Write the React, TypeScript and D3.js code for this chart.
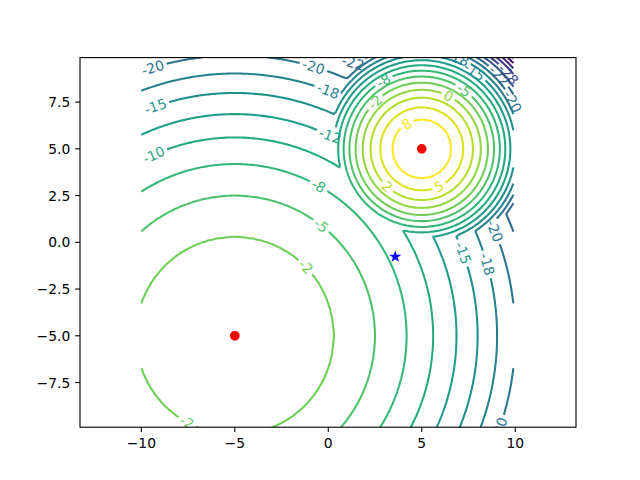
import React, { useMemo } from 'react';
import * as d3 from 'd3';

// ---------- data ----------
const peakX = [-5, 5];
const peakY = [-5, 5];
// contour rings around the lower-left peak (level -> radius)
const ringLevelsA = [0, -2.5, -5, -7.5, -10, -12.5, -15, -17.5, -20, -22.5, -25, -27.5, -30, -32.5, -35, -37.5, -40, -42.5];
const ringRadiiA = [0, 5.3, 7.5, 9.19, 10.61, 11.86, 12.99, 14.03, 15.0, 15.91, 16.77, 17.59, 18.37, 19.12, 19.84, 20.54, 21.21, 21.87];
// contour rings around the upper-right peak (level -> radius)
const ringLevelsB = [10, 7.5, 5, 2.5, 0, -2.5, -5, -7.5, -10, -12.5, -15, -17.5, -20, -22.5, -25, -27.5, -30, -32.5, -35, -37.5, -40, -42.5];
const ringRadiiB = [0, 1.58, 2.22, 2.74, 3.16, 3.54, 3.87, 4.18, 4.47, 4.74, 5.0, 5.24, 5.48, 5.7, 5.92, 6.12, 6.32, 6.52, 6.71, 6.89, 7.07, 7.25];
const contourLevels = [-37.5, -35, -32.5, -30, -27.5, -25, -22.5, -20, -17.5, -15, -12.5, -10, -7.5, -5, -2.5, 0, 2.5, 5, 7.5];
const starX = [3.58];
const starY = [-0.77];
// inline contour labels: level and approximate position (data units)
const labelLevels = [-20, -15, -10, -20, -17.5, -12.5, -7.5, -5, -22.5, -7.5, -2.5, 7.5, 0, -5, 2.5, 5, -20, -15, -17.5, -22.5, -27.5, -15, -17.5, -20, -20, -2.5, -2.5];
const labelX = [-9.4, -9.27, -9.37, -0.8, 0.0, 0.09, -0.51, -0.31, 1.32, 2.94, 2.44, 4.16, 6.42, 7.26, 3.17, 5.92, 9.93, 7.79, 6.94, 9.18, 9.77, 7.13, 8.56, 8.86, 9.07, -1.16, -7.5];
const labelY = [9.39, 7.34, 4.76, 9.35, 8.14, 5.68, 3.02, 0.98, 9.59, 8.68, 7.56, 6.41, 7.82, 8.14, 3.01, 3.01, 7.56, 9.1, 9.86, 8.95, 9.1, -0.59, -1.16, 0.6, -9.93, -1.27, -9.5];
const xTicks = [-10, -5, 0, 5, 10];
const yTicks = [-7.5, -5, -2.5, 0, 2.5, 5, 7.5];
const gridStart = -10;
const gridStep = 0.1;
const gridCount = 200;
const xDomain = [-13.28, 13.25];
const yDomain = [-9.89, 9.88];

// ---------- layout ----------
const W = 640, H = 480;
const AX = { left: 80, right: 576, top: 57.6, bottom: 427.2 };
const FONT = '"DejaVu Sans", "Liberation Sans", sans-serif';
const FS = 13.89;
const LW = 2.08;

type Pt = [number, number];
interface Line { pts: Pt[]; closed: boolean; }

function ringValue(r: number, radii: number[], levels: number[]): number {
  const n = radii.length;
  for (let k = 1; k < n; k++) {
    if (r <= radii[k]) {
      const t = (r - radii[k - 1]) / (radii[k] - radii[k - 1]);
      return levels[k - 1] + t * (levels[k] - levels[k - 1]);
    }
  }
  const t = (r - radii[n - 2]) / (radii[n - 1] - radii[n - 2]);
  return levels[n - 2] + t * (levels[n - 1] - levels[n - 2]);
}

function fmtLevel(v: number): string {
  const f = Math.floor(v);
  const d = v - f;
  let r = d > 0.5 + 1e-9 ? f + 1 : d < 0.5 - 1e-9 ? f : (f % 2 === 0 ? f : f + 1);
  if (r === 0) r = 0;
  return String(r);
}

function textWidth(s: string): number {
  let w = 0;
  for (const ch of s) w += ch === '-' ? 0.361 : 0.636;
  return w * FS;
}

function cumLen(pts: Pt[]): number[] {
  const c = [0];
  for (let i = 1; i < pts.length; i++) c.push(c[i - 1] + Math.hypot(pts[i][0] - pts[i - 1][0], pts[i][1] - pts[i - 1][1]));
  return c;
}
function pointAt(pts: Pt[], c: number[], s: number): Pt {
  const L = c[c.length - 1];
  if (s <= 0) return pts[0];
  if (s >= L) return pts[pts.length - 1];
  let i = d3.bisectRight(c, s) - 1;
  if (i >= pts.length - 1) i = pts.length - 2;
  if (i < 0) i = 0;
  const seg = c[i + 1] - c[i];
  const t = seg > 0 ? (s - c[i]) / seg : 0;
  return [pts[i][0] + t * (pts[i + 1][0] - pts[i][0]), pts[i][1] + t * (pts[i + 1][1] - pts[i][1])];
}
function subLine(pts: Pt[], c: number[], a: number, b: number): Pt[] {
  const out: Pt[] = [pointAt(pts, c, a)];
  for (let i = 0; i < pts.length; i++) if (c[i] > a && c[i] < b) out.push(pts[i]);
  out.push(pointAt(pts, c, b));
  return out;
}

export default function App() {
  const x = d3.scaleLinear().domain(xDomain).range([AX.left, AX.right]);
  const y = d3.scaleLinear().domain(yDomain).range([AX.bottom, AX.top]);
  const color = d3.scaleSequential(d3.interpolateViridis).domain([d3.min(contourLevels)!, d3.max(contourLevels)!]);

  const { linesByLevel, labels } = useMemo(() => {
    const values = new Float64Array(gridCount * gridCount);
    for (let j = 0; j < gridCount; j++) {
      const yy = gridStart + j * gridStep;
      for (let i = 0; i < gridCount; i++) {
        const xx = gridStart + i * gridStep;
        const fa = ringValue(Math.hypot(xx - peakX[0], yy - peakY[0]), ringRadiiA, ringLevelsA);
        const fb = ringValue(Math.hypot(xx - peakX[1], yy - peakY[1]), ringRadiiB, ringLevelsB);
        values[i + j * gridCount] = Math.max(fa, fb);
      }
    }
    const gen = d3.contours().size([gridCount, gridCount]).thresholds(contourLevels);
    const mps = gen(Array.from(values));
    const isB = (p: Pt) => p[0] <= 0 || p[0] >= gridCount || p[1] <= 0 || p[1] >= gridCount;
    const toPx = (p: Pt): Pt => [x(gridStart + (p[0] - 0.5) * gridStep), y(gridStart + (p[1] - 0.5) * gridStep)];

    const byLevel: Line[][] = mps.map((mp) => {
      const lines: Line[] = [];
      mp.coordinates.forEach((poly) => {
        poly.forEach((ringRaw) => {
          let ring = ringRaw as Pt[];
          if (ring.length > 1 && ring[0][0] === ring[ring.length - 1][0] && ring[0][1] === ring[ring.length - 1][1]) ring = ring.slice(0, -1);
          const n = ring.length;
          if (n < 2) return;
          const flags = ring.map(isB);
          const k = flags.indexOf(true);
          if (k < 0) {
            const pts = ring.map(toPx);
            pts.push(pts[0]);
            lines.push({ pts, closed: true });
            return;
          }
          let run: Pt[] = [];
          for (let m = 1; m <= n; m++) {
            const idx = (k + m) % n;
            if (flags[idx]) {
              if (run.length >= 2) lines.push({ pts: run.map(toPx), closed: false });
              run = [];
            } else run.push(ring[idx]);
          }
          if (run.length >= 2) lines.push({ pts: run.map(toPx), closed: false });
        });
      });
      return lines;
    });

    const labs: { x: number; y: number; a: number; text: string; color: string }[] = [];
    labelLevels.forEach((lev, j) => {
      const li = contourLevels.indexOf(lev);
      if (li < 0) return;
      const lines = byLevel[li];
      const P: Pt = [x(labelX[j]), y(labelY[j])];
      let best = { d: Infinity, li: -1, s: 0 };
      lines.forEach((ln, idx) => {
        const c = cumLen(ln.pts);
        for (let i = 0; i < ln.pts.length - 1; i++) {
          const A = ln.pts[i], B = ln.pts[i + 1];
          const dx = B[0] - A[0], dy = B[1] - A[1];
          const L2 = dx * dx + dy * dy;
          let t = L2 > 0 ? ((P[0] - A[0]) * dx + (P[1] - A[1]) * dy) / L2 : 0;
          t = Math.max(0, Math.min(1, t));
          const qx = A[0] + t * dx, qy = A[1] + t * dy;
          const d = Math.hypot(P[0] - qx, P[1] - qy);
          if (d < best.d) best = { d, li: idx, s: c[i] + t * Math.sqrt(L2) };
        }
      });
      if (best.li < 0) return;
      const ln = lines[best.li];
      const c = cumLen(ln.pts);
      const L = c[c.length - 1];
      const s0 = best.s;
      const wrap = (s: number) => (ln.closed ? ((s % L) + L) % L : Math.max(0, Math.min(L, s)));
      const pa = pointAt(ln.pts, c, wrap(s0 - 5));
      const pb = pointAt(ln.pts, c, wrap(s0 + 5));
      let ang = (Math.atan2(pb[1] - pa[1], pb[0] - pa[0]) * 180) / Math.PI;
      if (ang > 90) ang -= 180;
      if (ang <= -90) ang += 180;
      const ctr = pointAt(ln.pts, c, s0);
      const text = fmtLevel(lev);
      const hg = textWidth(text) / 2 + 3;
      const pieces: Line[] = [];
      if (ln.closed) {
        const open = subLine(ln.pts, c, s0, L).concat(subLine(ln.pts, c, 0, s0).slice(1));
        const co = cumLen(open);
        const Lo = co[co.length - 1];
        if (Lo - 2 * hg > 1) pieces.push({ pts: subLine(open, co, hg, Lo - hg), closed: false });
      } else {
        if (s0 - hg > 1) pieces.push({ pts: subLine(ln.pts, c, 0, s0 - hg), closed: false });
        if (s0 + hg < L - 1) pieces.push({ pts: subLine(ln.pts, c, s0 + hg, L), closed: false });
      }
      lines.splice(best.li, 1, ...pieces);
      labs.push({ x: ctr[0], y: ctr[1], a: ang, text, color: color(lev) as string });
    });
    return { linesByLevel: byLevel, labels: labs };
  }, []);

  const lineGen = d3.line<Pt>().x((d) => d[0]).y((d) => d[1]);
  const fmtTick = (v: number, dec: number) => (v < 0 ? '\u2212' : '') + Math.abs(v).toFixed(dec);
  const star = d3.symbol().type(d3.symbolStar).size(19.5)();

  return (
    <svg width={W} height={H} style={{ position: 'absolute', left: 0, top: 0, background: '#fff' }} fontFamily={FONT}>
      <defs>
        <clipPath id="axclip">
          <rect x={AX.left} y={AX.top} width={AX.right - AX.left} height={AX.bottom - AX.top} />
        </clipPath>
      </defs>
      <rect x={0} y={0} width={W} height={H} fill="#fff" />
      <g clipPath="url(#axclip)">
        {linesByLevel.map((lines, li) =>
          lines.map((ln, k) => (
            <path key={`${li}-${k}`} d={lineGen(ln.pts) || ''} fill="none" stroke={color(contourLevels[li]) as string} strokeWidth={LW} strokeLinejoin="round" />
          ))
        )}
        {labels.map((l, i) => (
          <text key={i} transform={`translate(${l.x},${l.y}) rotate(${l.a})`} textAnchor="middle" dominantBaseline="central" fontSize={FS} fill={l.color}>
            {l.text}
          </text>
        ))}
        {peakX.map((px, i) => (
          <circle key={i} cx={x(px)} cy={y(peakY[i])} r={4.17} fill="#ff0000" stroke="#ff0000" strokeWidth={1.39} />
        ))}
        {starX.map((sx, i) => (
          <path key={i} d={star || ''} transform={`translate(${x(sx)},${y(starY[i])})`} fill="#0000ff" stroke="#0000ff" strokeWidth={1.39} strokeLinejoin="miter" />
        ))}
      </g>
      <rect x={AX.left} y={AX.top} width={AX.right - AX.left} height={AX.bottom - AX.top} fill="none" stroke="#000" strokeWidth={1.11} />
      {xTicks.map((t) => (
        <g key={t}>
          <line x1={x(t)} x2={x(t)} y1={AX.bottom} y2={AX.bottom + 4.86} stroke="#000" strokeWidth={1.11} />
          <text x={x(t)} y={448} textAnchor="middle" fontSize={FS} fill="#000">{fmtTick(t, 0)}</text>
        </g>
      ))}
      {yTicks.map((t) => (
        <g key={t}>
          <line x1={AX.left - 4.86} x2={AX.left} y1={y(t)} y2={y(t)} stroke="#000" strokeWidth={1.11} />
          <text x={AX.left - 9.72} y={y(t) + 5} textAnchor="end" fontSize={FS} fill="#000">{fmtTick(t, 1)}</text>
        </g>
      ))}
    </svg>
  );
}
